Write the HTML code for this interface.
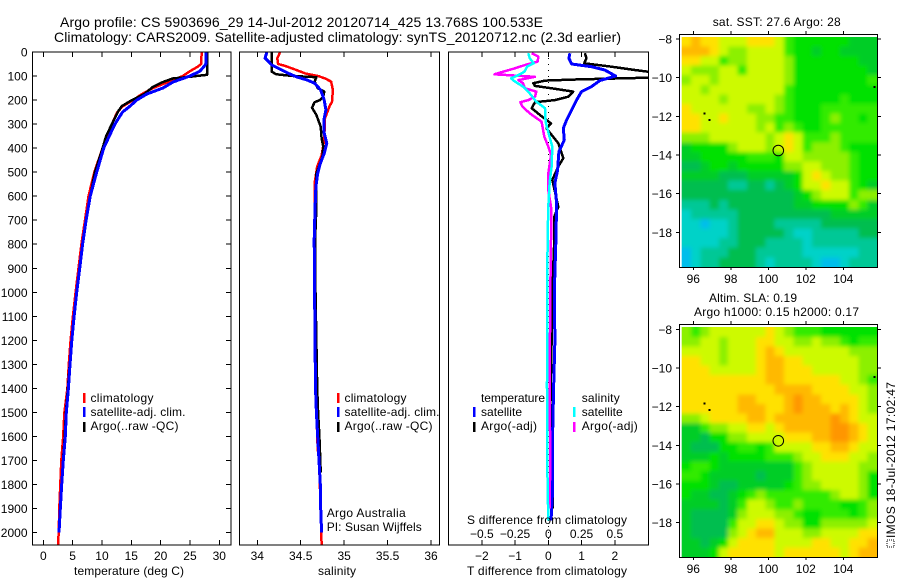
<!DOCTYPE html>
<html>
<head>
<meta charset="utf-8">
<title>Argo profile</title>
<style>
html,body{margin:0;padding:0;background:#fff;width:900px;height:580px;overflow:hidden}
svg{display:block}
text{font-family:"Liberation Sans",sans-serif;font-size:12px;fill:#000}
.title{font-size:14px}
.frame{fill:none;stroke:#000;stroke-width:1;shape-rendering:crispEdges}
.tick{stroke:#000;stroke-width:1;shape-rendering:crispEdges}
.line{fill:none;stroke-width:2.5;stroke-linejoin:round;shape-rendering:crispEdges}
.line.wide{stroke-width:3}
.bar{stroke-width:2.5;shape-rendering:crispEdges}
.cell{shape-rendering:crispEdges}
</style>
</head>
<body>
<svg id="fig" xmlns="http://www.w3.org/2000/svg" width="900" height="580" viewBox="0 0 900 580">
  <defs>
    <clipPath id="clip1"><rect x="32" y="52" width="199" height="493"/></clipPath>
    <clipPath id="clip2"><rect x="240" y="52" width="200" height="493"/></clipPath>
    <clipPath id="clip3"><rect x="448" y="52" width="200" height="493"/></clipPath>
    <clipPath id="clipMap1"><rect x="681.7" y="37" width="195.8" height="230.5"/></clipPath>
    <clipPath id="clipMap2"><rect x="681.7" y="327" width="195.8" height="230.5"/></clipPath>
    <filter id="soften" filterUnits="userSpaceOnUse" x="650" y="0" width="250" height="580">
      <feGaussianBlur stdDeviation="2"/>
    </filter>
  </defs>
  <text class="title" x="60" y="27" textLength="483" lengthAdjust="spacing">Argo profile: CS 5903696_29 14-Jul-2012 20120714_425 13.768S 100.533E</text>
  <text class="title" x="54" y="42" textLength="567" lengthAdjust="spacing">Climatology: CARS2009. Satellite-adjusted climatology: synTS_20120712.nc (2.3d earlier)</text>

  <g clip-path="url(#clipMap1)"><g id="map1cells" filter="url(#soften)"></g></g>
  <g clip-path="url(#clipMap2)"><g id="map2cells" filter="url(#soften)"></g></g>
  <g id="series1" clip-path="url(#clip1)"></g>
  <g id="series2" clip-path="url(#clip2)"></g>
  <g id="series3" clip-path="url(#clip3)"></g>
  <g id="axes"></g>

  <rect class="frame" x="32.5" y="52" width="198.5" height="493"/>
  <rect class="frame" x="239.5" y="52" width="200" height="493"/>
  <rect class="frame" x="448.5" y="52" width="200" height="493"/>
  <rect class="frame" x="679.5" y="34.5" width="198" height="233"/>
  <rect class="frame" x="679.5" y="324.5" width="198" height="233"/>

  <text x="74" y="575" textLength="110" lengthAdjust="spacing">temperature (deg C)</text>
  <text x="318" y="575" textLength="38" lengthAdjust="spacing">salinity</text>
  <text x="467" y="575" textLength="160" lengthAdjust="spacing">T difference from climatology</text>
  <text x="467" y="524" textLength="160" lengthAdjust="spacing">S difference from climatology</text>

  <g>
    <line class="bar" x1="84" x2="84" y1="393" y2="403" stroke="#f00"/>
    <text x="90.5" y="402" textLength="63" lengthAdjust="spacing">climatology</text>
    <line class="bar" x1="84" x2="84" y1="407" y2="417" stroke="#00f"/>
    <text x="90.5" y="416" textLength="95" lengthAdjust="spacing">satellite-adj. clim.</text>
    <line class="bar" x1="84" x2="84" y1="422" y2="432" stroke="#000"/>
    <text x="90.5" y="430" textLength="88" lengthAdjust="spacing">Argo(..raw -QC)</text>
  </g>
  <g>
    <line class="bar" x1="338" x2="338" y1="393" y2="403" stroke="#f00"/>
    <text x="344.5" y="402" textLength="62" lengthAdjust="spacing">climatology</text>
    <line class="bar" x1="338" x2="338" y1="407" y2="417" stroke="#00f"/>
    <text x="344.5" y="416" textLength="95" lengthAdjust="spacing">satellite-adj. clim.</text>
    <line class="bar" x1="338" x2="338" y1="422" y2="432" stroke="#000"/>
    <text x="344.5" y="430" textLength="88" lengthAdjust="spacing">Argo(..raw -QC)</text>
    <text x="326.7" y="517" textLength="79" lengthAdjust="spacing">Argo Australia</text>
    <text x="326.7" y="531" textLength="95" lengthAdjust="spacing">PI: Susan Wijffels</text>
  </g>
  <g>
    <text x="481" y="402" textLength="64" lengthAdjust="spacing">temperature</text>
    <line class="bar" x1="474" x2="474" y1="407" y2="417" stroke="#00f"/>
    <text x="481" y="416" textLength="41" lengthAdjust="spacing">satellite</text>
    <line class="bar" x1="474" x2="474" y1="422" y2="432" stroke="#000"/>
    <text x="481" y="430" textLength="56" lengthAdjust="spacing">Argo(-adj)</text>
    <text x="581.7" y="402" textLength="38" lengthAdjust="spacing">salinity</text>
    <line class="bar" x1="574" x2="574" y1="407" y2="417" stroke="#0ff"/>
    <text x="581.7" y="416" textLength="41" lengthAdjust="spacing">satellite</text>
    <line class="bar" x1="574" x2="574" y1="422" y2="432" stroke="#f0f"/>
    <text x="581.7" y="430" textLength="56" lengthAdjust="spacing">Argo(-adj)</text>
  </g>

  <text x="712.7" y="26" textLength="128" lengthAdjust="spacing">sat. SST: 27.6 Argo: 28</text>
  <text x="709" y="302" textLength="88" lengthAdjust="spacing">Altim. SLA: 0.19</text>
  <text x="694" y="316" textLength="165" lengthAdjust="spacing">Argo h1000: 0.15 h2000: 0.17</text>

  <rect x="887" y="540" width="7" height="7" fill="none" stroke="#000" stroke-width="1" stroke-dasharray="1 1" shape-rendering="crispEdges"/>
  <text transform="translate(895,538) rotate(-90)" textLength="156" lengthAdjust="spacing">IMOS 18-Jul-2012 17:02:47</text>
</svg>

<script>
// ---------- Temperature panel data ----------
const tempDepths = [0,50,60,80,100,125,150,175,200,225,250,300,350,400,500,600,700,800,900,1000,1100,1200,1300,1400,1500,1600,1700,1800,1900,2000,2050];
const tempClim = [27.0,26.9,26.4,25.0,23.8,21.3,18.7,16.8,15.3,13.6,12.6,11.7,10.9,10.1,8.7,7.7,7.1,6.5,6.0,5.5,5.05,4.65,4.35,4.1,3.6,3.4,3.07,2.9,2.73,2.62,2.5];
const tempSatDepths = [0,50,60,80,100,125,150,175,200,225,250,300,350,400,500,600,700,800,900,1000,1100,1200,1300,1400,1500,1600,1700,1800,1900,2000];
const tempSat = [27.7,27.7,27.4,26.7,25.0,22.1,20.4,17.6,15.9,14.8,13.5,12.2,11.25,10.3,9.1,8.0,7.3,6.7,6.2,5.7,5.25,4.85,4.55,4.27,3.92,3.75,3.41,3.13,2.9,2.68];
const tempArgoDepths = [0,95,100,105,110,125,145,175,200,225,245,300,350,400,500,600,700,800,900,1000,1100,1200,1300,1400,1500,1600,1700,1800,1900];
const tempArgo = [27.9,27.9,26.1,24.4,22.1,20.4,18.7,17.2,15.1,13.4,12.8,11.7,10.7,10.1,8.8,8.0,7.3,6.7,6.2,5.7,5.25,4.85,4.5,4.2,3.85,3.65,3.35,3.1,2.9];
// ---------- Salinity panel data ----------
const salClimDepths = [0,12,26,50,58,75,89,100,110,123,158,207,227,276,366,430,477,546,630,782,1000,1400,1650,1700,1900,2050];
const salClim = [34.26,34.25,34.23,34.24,34.32,34.45,34.55,34.70,34.78,34.85,34.87,34.86,34.83,34.78,34.77,34.74,34.69,34.66,34.66,34.66,34.66,34.67,34.695,34.71,34.73,34.74];
const salSatDepths = [0,12,26,40,54,75,89,103,116,130,158,200,241,276,338,380,422,470,505,560,644,782,1000,1400,1500,1600,1700,1800,1900,2000];
const salSat = [34.11,34.10,34.09,34.13,34.165,34.28,34.36,34.45,34.57,34.66,34.73,34.77,34.79,34.77,34.77,34.80,34.77,34.72,34.695,34.675,34.665,34.655,34.66,34.67,34.68,34.695,34.71,34.725,34.73,34.74];
const salArgoDepths = [0,82,93,100,105,123,151,165,186,200,209,232,262,311,359,394,436,505,644,782,1000,1400,1500,1600,1700,1750];
const salArgo = [34.165,34.165,34.22,34.41,34.68,34.66,34.695,34.77,34.76,34.72,34.66,34.63,34.68,34.73,34.74,34.76,34.75,34.68,34.68,34.665,34.67,34.69,34.70,34.715,34.725,34.73];
// ---------- Difference panel data ----------
const dTSatDepths = [5,26,50,61,75,100,119,144,165,200,234,283,318,366,415,491,546,630,782,1000,1200,1400,1650,1750,1850,1950];
const dTSat = [0.65,0.62,0.70,1.30,1.70,2.02,1.55,1.30,1.00,0.85,0.73,0.55,0.45,0.48,0.32,0.28,0.20,0.25,0.23,0.18,0.20,0.16,0.12,0.12,0.12,0.08];
const dTArgoDepths = [5,26,47,61,75,82,92,107,114,119,130,141,151,165,186,200,209,234,262,297,318,345,380,442,477,532,644,685,782,1000,1200,1500,1700,1900];
const dTArgo = [1.10,1.15,1.08,1.90,2.60,3.00,5.00,3.00,0.90,-0.10,-0.45,-0.40,0.10,0.75,0.60,0.20,-0.40,-0.50,-0.25,0.08,-0.05,0.10,0.30,0.45,0.30,0.12,0.30,0.18,0.18,0.12,0.10,0.06,0.08,0.14];
const dSSatDepths = [5,26,47,61,82,96,110,123,144,172,207,234,290,345,394,477,546,644,782,1000,1400,1700,1950];
const dSSat = [-0.15,-0.14,-0.11,-0.16,-0.18,-0.225,-0.28,-0.25,-0.19,-0.14,-0.09,-0.025,-0.02,0.005,0.03,0.025,0.01,0,-0.005,-0.008,-0.01,-0.008,0];
const dSArgoDepths = [5,19,40,54,68,82,93,103,117,130,151,165,186,200,209,227,255,290,352,394,429,505,574,644,782,1000,1400,1700,1900];
const dSArgo = [-0.125,-0.075,-0.08,-0.175,-0.25,-0.34,-0.405,-0.10,-0.225,-0.19,-0.175,-0.09,-0.10,-0.15,-0.21,-0.195,-0.14,-0.05,-0.03,0,0.02,0,0,0.02,0.02,0.015,0.01,0.015,0.01];
// ---------- Tick labels ----------
const depthTicks = [0,100,200,300,400,500,600,700,800,900,1000,1100,1200,1300,1400,1500,1600,1700,1800,1900,2000];
const tempTicks = [0,5,10,15,20,25,30];
const salTicks = [34,34.5,35,35.5,36];
const tDiffTicks = [-2,-1,0,1,2];
const sDiffTicks = [-0.5,-0.25,0,0.25,0.5];
const latTicks = [-8,-10,-12,-14,-16,-18];
const lonTicks = [96,98,100,102,104];
// ---------- Map data: colour level per grid cell ----------
const sstGrid = [
[9,10,9,9,8,8,8,9,9,9,8,6,5,5,5,5,5,5,4,4,4],
[10,10,10,9,8,7,7,8,8,8,8,6,5,5,4,5,5,4,4,4,4],
[9,9,8,8,6,7,7,8,8,8,8,7,5,5,5,5,5,5,5,4,4],
[8,7,7,7,8,8,6,8,8,8,8,7,5,5,5,5,5,5,5,5,4],
[7,8,8,7,8,8,8,8,8,8,8,7,5,5,5,5,5,5,5,5,6],
[8,8,7,8,8,8,8,8,8,8,8,6,5,5,5,5,5,5,5,5,5],
[8,8,8,8,7,8,8,8,8,8,7,6,5,5,5,5,5,6,5,5,5],
[9,8,8,8,8,8,8,7,7,8,7,6,5,5,5,6,6,6,6,6,6],
[9,9,8,8,9,8,8,8,7,7,6,6,5,5,5,6,7,6,6,5,6],
[9,9,8,8,8,8,8,8,7,8,6,7,6,5,5,6,6,6,6,6,6],
[7,7,7,8,8,8,8,8,8,7,8,9,8,6,6,6,7,6,6,6,6],
[4,5,5,5,5,7,8,8,8,7,8,9,8,6,7,7,7,6,5,5,5],
[4,4,5,5,5,5,5,6,6,6,5,8,8,7,7,7,7,7,6,5,5],
[3,3,4,5,5,4,5,5,5,5,5,7,7,8,8,7,7,7,6,5,5],
[4,4,4,4,3,3,3,4,4,4,4,4,5,8,9,8,7,7,6,5,5],
[3,3,3,3,3,2,2,3,3,2,3,4,5,8,8,9,8,8,6,5,4],
[3,3,3,3,3,3,3,3,3,3,3,3,4,5,7,8,8,8,6,7,7],
[2,2,2,3,2,3,3,3,3,3,3,3,4,4,5,5,5,5,7,6,4],
[1,2,2,2,2,2,3,3,3,3,3,3,3,3,3,3,4,4,4,4,4],
[1,1,0,1,1,2,3,3,3,3,2,2,2,2,2,3,3,3,3,3,3],
[1,1,1,1,1,2,3,3,3,3,3,2,1,1,2,2,2,2,2,3,3],
[1,1,1,1,2,2,3,3,3,2,2,2,2,1,2,2,2,2,2,2,2],
[0,1,2,2,2,3,3,3,2,2,2,2,2,1,1,1,1,1,1,2,2],
[0,1,2,2,3,3,3,3,2,1,2,2,2,2,1,0,0,1,2,2,2]
];
const slaGrid = [
[7,6,7,8,8,8,8,8,8,9,8,7,6,6,6,5,5,5,5,5,5],
[7,7,8,8,7,8,8,8,9,9,8,8,7,7,8,7,7,6,5,6,6],
[8,8,8,8,7,8,8,8,9,10,9,8,8,8,8,8,8,8,7,7,7],
[9,9,8,8,7,8,8,8,9,10,10,9,9,8,8,8,8,8,8,7,7],
[9,9,9,8,8,8,8,8,9,10,10,9,9,9,8,8,8,8,8,7,7],
[9,9,9,9,9,9,9,9,9,10,10,9,9,9,9,9,9,8,8,7,6],
[9,9,9,9,9,9,9,9,9,9,10,10,10,10,9,9,9,9,8,8,7],
[9,9,9,9,9,9,10,10,9,9,9,10,11,10,10,9,9,9,9,8,7],
[9,9,9,9,9,9,10,10,10,9,9,10,11,10,10,10,9,10,9,8,7],
[7,7,8,9,9,9,9,10,10,9,10,10,10,10,10,10,11,10,9,8,8],
[4,4,6,7,7,8,8,9,9,8,9,10,10,10,10,10,11,11,10,9,8],
[4,4,3,5,5,7,7,8,8,8,8,9,9,9,10,10,11,11,10,9,8],
[4,3,3,3,5,5,6,6,5,6,8,8,8,8,9,9,10,10,9,8,8],
[4,4,4,5,4,5,5,5,5,6,6,6,7,8,8,9,9,9,8,8,7],
[5,6,6,5,4,4,4,4,4,4,4,4,6,7,8,8,8,8,8,7,7],
[6,6,5,4,4,4,4,4,3,4,4,4,6,7,8,8,8,8,8,7,5],
[5,5,5,4,3,3,4,4,4,4,4,5,6,7,7,8,8,8,8,7,5],
[5,4,4,3,3,4,5,6,7,6,6,6,6,6,6,6,7,8,8,7,5],
[4,4,4,4,3,4,6,8,8,7,6,6,7,6,6,6,6,5,5,6,7],
[4,3,3,3,3,4,7,8,8,8,7,7,6,5,5,6,6,6,5,6,7],
[4,3,3,3,3,6,8,8,9,9,8,7,7,5,5,7,7,7,7,7,8],
[4,3,3,3,3,7,8,9,10,10,8,8,8,7,7,8,8,8,8,9,9],
[4,4,3,4,5,8,9,9,9,9,8,8,8,8,9,9,8,8,9,9,10],
[4,4,4,5,8,9,9,9,9,9,8,9,9,9,9,9,9,8,9,10,10]
];
const argoPosition = [100.533,-13.768];
const islandPoints = [[96.6,-11.85],[96.87,-12.18],[105.67,-10.48]];

// ---------- Axis functions ----------
const SVGNS = 'http://www.w3.org/2000/svg';
const depthY = d => 52 + d * 0.2403;
const tempX = t => 43.3 + t * 5.867;
const salX = s => 257.3 + (s - 34) * 86.85;
const tDiffX = t => 548.3 + t * 33.25;
const sDiffX = s => tDiffX(s * 4);
const lonX = lon => 693.3 + (lon - 96) * 18.75;
const map1LatY = lat => 39 + (-8 - lat) * 19.33;
const map2LatY = lat => 329.3 + (-8 - lat) * 19.33;

function make(tag, attrs, parent) {
  const node = document.createElementNS(SVGNS, tag);
  for (const k in attrs) node.setAttribute(k, attrs[k]);
  parent.appendChild(node);
  return node;
}
function drawLine(parent, depths, values, xFn, colour) {
  const d = depths.map((dep, i) => (i ? 'L' : 'M') + xFn(values[i]).toFixed(1) + ' ' + depthY(dep).toFixed(1)).join('');
  const path = make('path', {d: d, class: colour === '#00f' ? 'line wide' : 'line', stroke: colour}, parent);
  return path;
}
function tick(x1, y1, x2, y2) {
  const t = make('line', {x1: x1, y1: y1, x2: x2, y2: y2, class: 'tick'}, axes);
  
  
}
function label(str, x, y, anchor) {
  const t = make('text', {x: x, y: y, 'text-anchor': anchor}, axes);
  t.textContent = str;
  
  
}

const axes = document.getElementById('axes');
const series1 = document.getElementById('series1');
const series2 = document.getElementById('series2');
const series3 = document.getElementById('series3');

// ---------- Heatmaps ----------
const colourStops = [[0,190,235],[0,210,200],[0,200,150],[0,190,80],[0,205,40],[0,225,0],[50,235,0],[140,240,0],[205,250,0],[255,225,0],[255,185,0],[255,150,0]];
function levelColour(v) {
  const lo = Math.max(0, Math.min(colourStops.length - 1, Math.floor(v)));
  const hi = Math.min(colourStops.length - 1, lo + 1);
  const f = Math.max(0, Math.min(1, v - lo));
  const c = colourStops[lo].map((a, i) => Math.round(a + (colourStops[hi][i] - a) * f));
  return 'rgb(' + c.join(',') + ')';
}
const lonStart = 95.38, lonStep = 0.496, latStart = -7.89, latStep = 0.4958;
function drawGrid(grid, group, latY, name) {
  const bleed = 10;
  grid.forEach((row, r) => row.forEach((v, c) => {
    const x0 = lonX(lonStart + c * lonStep) - (c === 0 ? bleed : 0);
    const x1 = lonX(lonStart + (c + 1) * lonStep) + (c === row.length - 1 ? bleed : 0);
    const y0 = latY(latStart - r * latStep) - (r === 0 ? bleed : 0);
    const y1 = latY(latStart - (r + 1) * latStep) + (r === grid.length - 1 ? bleed : 0);
    const cell = make('rect', {x: x0.toFixed(2), y: y0.toFixed(2), width: (x1 - x0 + 0.3).toFixed(2), height: (y1 - y0 + 0.3).toFixed(2), fill: levelColour(v), class: 'cell'}, group);
    
    
  }));
}
drawGrid(sstGrid, document.getElementById('map1cells'), map1LatY, 'sst-cell');
drawGrid(slaGrid, document.getElementById('map2cells'), map2LatY, 'sla-cell');

// ---------- Profile series ----------
let p;
p = drawLine(series1, tempDepths, tempClim, tempX, '#f00');


p = drawLine(series1, tempArgoDepths, tempArgo, tempX, '#000');


p = drawLine(series1, tempSatDepths, tempSat, tempX, '#00f');



p = drawLine(series2, salClimDepths, salClim, salX, '#f00');


p = drawLine(series2, salArgoDepths, salArgo, salX, '#000');


p = drawLine(series2, salSatDepths, salSat, salX, '#00f');



const zeroLine = make('line', {x1: tDiffX(0), x2: tDiffX(0), y1: 52, y2: 545, stroke: '#000', 'stroke-width': 1, 'stroke-dasharray': '1 5', 'shape-rendering': 'crispEdges'}, series3);


p = drawLine(series3, dTArgoDepths, dTArgo, tDiffX, '#000');


p = drawLine(series3, dTSatDepths, dTSat, tDiffX, '#00f');


p = drawLine(series3, dSArgoDepths, dSArgo, sDiffX, '#f0f');


p = drawLine(series3, dSSatDepths, dSSat, sDiffX, '#0ff');



// ---------- Ticks and labels ----------
depthTicks.forEach(d => {
  const y = depthY(d);
  tick(32, y, 37, y);
  tick(226, y, 231, y);
  label(String(d), 27.5, y + 4.5, 'end');
});
tempTicks.forEach(t => {
  const x = tempX(t);
  tick(x, 52, x, 57);
  tick(x, 540, x, 545);
  label(String(t), x, 560, 'middle');
});
salTicks.forEach(s => {
  const x = salX(s);
  tick(x, 52, x, 57);
  tick(x, 540, x, 545);
  label(String(s), x, 560, 'middle');
});
tDiffTicks.forEach(t => {
  const x = tDiffX(t);
  tick(x, 52, x, 57);
  tick(x, 540, x, 545);
  label(String(t).replace('-', '\u2212'), x, 560, 'middle');
});
sDiffTicks.forEach(s => {
  label(String(s).replace('-', '\u2212'), sDiffX(s), 538, 'middle');
});
[[map1LatY, 34, 267], [map2LatY, 324, 557]].forEach(m => {
  const latY = m[0];
  latTicks.forEach(lat => {
    const y = latY(lat);
    tick(676, y, 679, y);
    tick(878, y, 881, y);
    label(String(lat).replace('-', '\u2212'), 672, y + 4.5, 'end');
  });
  lonTicks.forEach(lon => {
    const x = lonX(lon);
    tick(x, m[1] - 3, x, m[1]);
    tick(x, m[2], x, m[2] + 3);
    label(String(lon), x, m[2] + 16, 'middle');
  });
});

// ---------- Map markers ----------
[map1LatY, map2LatY].forEach(latY => {
  const ring = make('circle', {cx: lonX(argoPosition[0]), cy: latY(argoPosition[1]), r: 5.3, fill: 'none', stroke: '#000', 'stroke-width': 1}, axes);
  
  
  islandPoints.forEach(pt => {
    const isl = make('rect', {x: lonX(pt[0]) - 1, y: latY(pt[1]) - 1, width: 2, height: 2, fill: '#000', 'shape-rendering': 'crispEdges'}, axes);
    
    
  });
});
</script>
</body>
</html>
